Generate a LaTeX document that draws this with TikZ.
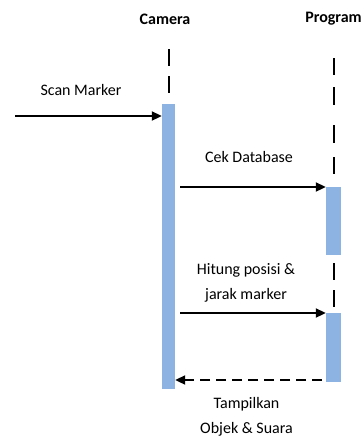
\documentclass[tikz,border=0pt]{standalone}
\usepackage{fontspec}
\setmainfont{Carlito}
\usetikzlibrary{arrows.meta}
\definecolor{actblue}{HTML}{8DB3E2}
\tikzset{
  lbl/.style={font=\fontsize{16}{25}\selectfont, align=center, inner sep=0pt},
  head/.style={lbl, font=\fontsize{16}{25}\selectfont\bfseries},
  actbox/.style={draw=none, fill=actblue, minimum width=13pt, inner sep=0pt, anchor=north},
  lifeline/.style={line width=2pt},
  msg/.style={line width=2pt, -{Triangle[length=10pt,width=9pt]}},
  ret/.style={msg, dash pattern=on 10pt off 6pt},
}
\begin{document}
\begin{tikzpicture}[x=1pt, y=-1pt]
  \useasboundingbox (0,0) rectangle (364,437);

  % participants
  \node[head] (camlbl) at (165,19) {Camera};
  \node[head] (proglbl) at (333.5,19) {Program};

  % activation bars
  \node[actbox, minimum height=285pt] (cam) at (168.5,104) {};
  \node[actbox, minimum width=15pt, minimum height=68pt] (p1) at (333.5,187) {};
  \node[actbox, minimum width=15pt, minimum height=69pt] (p2) at (333.5,313) {};

  % lifelines
  \coordinate (camtop) at (168.5,49);
  \draw[lifeline, dash pattern=on 17pt off 10pt] (camtop) -- (camtop |- 0,93);
  \coordinate (progtop) at (333.5,58);
  \draw[lifeline, dash pattern=on 17pt off 12pt on 18pt off 20pt on 18pt off 14pt on 17pt off 13pt]
    (progtop) -- (progtop |- 0,174);
  \coordinate (progmid) at (333.5,263);
  \draw[lifeline, dash pattern=on 17pt off 10pt] (progmid) -- (progmid |- 0,307);

  % messages
  \coordinate (src) at (15,116);
  \draw[msg] (src) -- (src -| cam.west);
  \node[lbl] (scan) at (81,90) {Scan Marker};

  \draw[msg] ([xshift=5pt]cam.east |- p1.north) -- (p1.north west);
  \node[lbl] (cek) at (249,157) {Cek Database};

  \draw[msg] ([xshift=5pt]cam.east |- p2.north) -- (p2.north west);
  \node[lbl] (hitung) at (246,282.5) {Hitung posisi \&\\jarak marker};

  \coordinate (back) at (322,380);
  \draw[ret] (back) -- (back -| cam.east);
  \node[lbl] (tampil) at (246.5,416.5) {Tampilkan\\Objek \& Suara};
\end{tikzpicture}
\end{document}
